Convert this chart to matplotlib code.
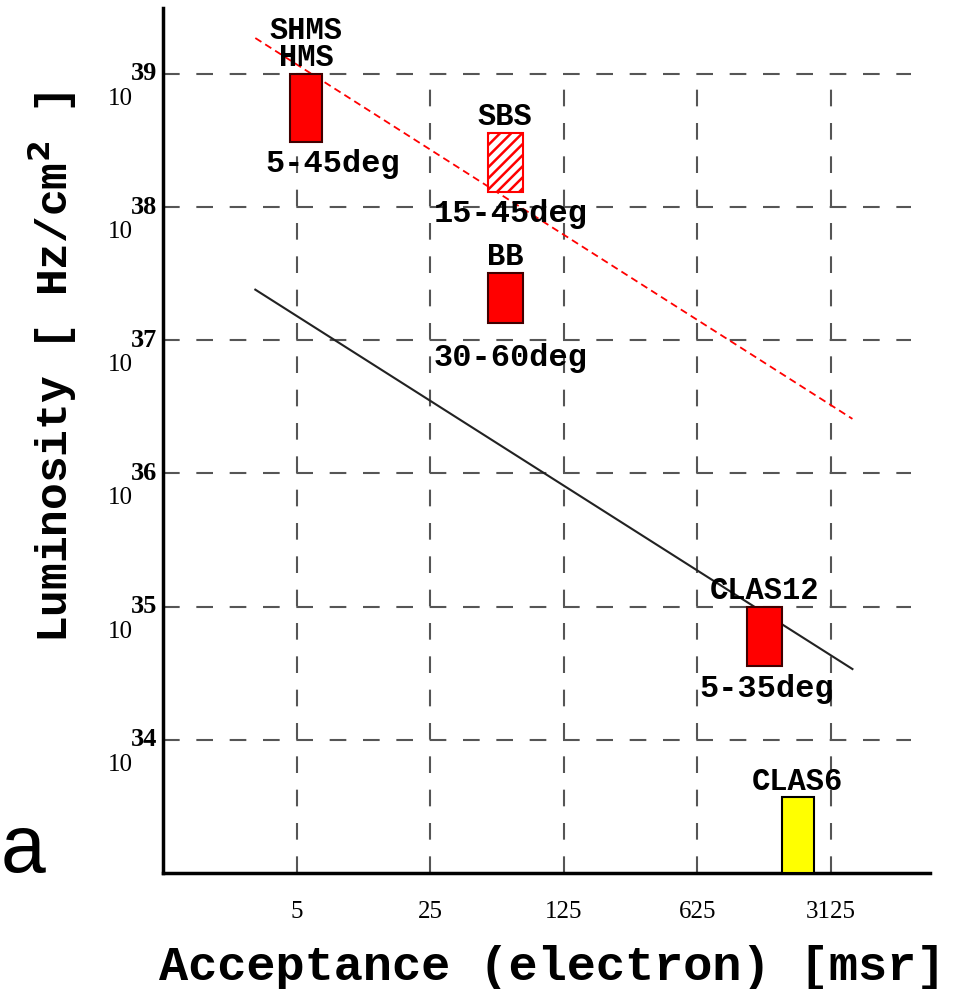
import matplotlib
matplotlib.use("Agg")
import matplotlib.pyplot as plt
from matplotlib.patches import Rectangle
from matplotlib.ticker import NullLocator

# detectors: electron acceptance range [msr] and luminosity range [Hz/cm^2]
names = ["SHMS\nHMS", "SBS", "BB", "CLAS12", "CLAS6"]
angles = ["5-45deg", "15-45deg", "30-60deg", "5-35deg", ""]
acc_lo = [4.6, 50, 50, 1130, 1720]
acc_hi = [6.8, 76, 76, 1720, 2540]
lum_lo = [3.1e38, 1.3e38, 1.35e37, 3.6e34, 1e33]
lum_hi = [1e39, 3.6e38, 3.2e37, 1e35, 3.7e33]

# the two reference lines
line_acc = [3.04, 4040]
line_black = [2.4e37, 3.4e34]
line_red = [1.86e39, 2.57e36]

xticks = [5, 25, 125, 625, 3125]
ytick_exp = [34, 35, 36, 37, 38, 39]

# styling
FACE = ["red", "white", "red", "red", "yellow"]
EDGE = ["#400000", "red", "#400000", "#400000", "black"]
HATCH = [None, "///", None, None, None]
# angle-label offsets (points) from bar bottom centre
ANG_OFF = [(19, -22), (4, -21.5), (4, -31), (2, -22.3), (0, 0)]
MONO = "Liberation Mono"
SERIF = "Liberation Serif"

plt.rcParams["hatch.linewidth"] = 1.8

W, H = 963, 989
fig = plt.figure(figsize=(W / 100, H / 100), dpi=100)
ax = fig.add_axes([163 / W, 116 / H, 767 / W, 865 / H])
ax.set_xscale("log", base=5)
ax.set_yscale("log")
ax.set_xlim(1, 5 ** 5.74)
ax.set_ylim(1e33, 10 ** 39.495)

yticks = [10.0 ** e for e in ytick_exp]

# dashed grid, boxed to the tick range
gkw = dict(color="#555555", lw=1.5, ls=(0, (8, 8)), zorder=1)
ax.hlines(yticks, 1, 5 ** 5.6, **gkw)
ax.vlines(xticks, 1e33, 1e39, **gkw)

ax.plot(line_acc, line_red, color="red", lw=1.3, ls=(0, (4, 2.5)), zorder=2)
ax.plot(line_acc, line_black, color="#222222", lw=1.5, zorder=2)

for i in range(len(names)):
    r = Rectangle((acc_lo[i], lum_lo[i]), acc_hi[i] - acc_lo[i], lum_hi[i] - lum_lo[i],
                  facecolor=FACE[i], edgecolor=EDGE[i], hatch=HATCH[i], lw=1.5, zorder=3)
    ax.add_patch(r)
    xc = (acc_lo[i] * acc_hi[i]) ** 0.5
    ax.annotate(names[i], xy=(xc, lum_hi[i]), xytext=(0, 0.5), textcoords="offset points",
                ha="center", va="bottom", family=MONO, weight="bold", fontsize=22,
                linespacing=0.9, zorder=5)
    if angles[i]:
        ax.annotate(angles[i], xy=(xc, lum_lo[i]), xytext=ANG_OFF[i], textcoords="offset points",
                    ha="center", va="baseline", family=MONO, weight="bold", fontsize=23, zorder=5)

ax.set_xticks(xticks, labels=[str(t) for t in xticks])
ax.set_yticks(yticks, labels=[])
ax.xaxis.set_minor_locator(NullLocator())
ax.yaxis.set_minor_locator(NullLocator())
ax.tick_params(axis="x", length=0, pad=20, labelsize=18)
ax.tick_params(axis="y", length=0)
for lab in ax.get_xticklabels():
    lab.set_family(SERIF)

# y tick labels drawn as "10" with a raised bold exponent, like the original
for e, yv in zip(ytick_exp, yticks):
    ax.annotate(str(e), xy=(0, yv), xycoords=("axes fraction", "data"), xytext=(-4.3, 0),
                textcoords="offset points", ha="right", va="center", family=SERIF,
                weight="bold", fontsize=19, annotation_clip=False)
    ax.annotate("10", xy=(0, yv), xycoords=("axes fraction", "data"), xytext=(-21.6, -22.3),
                textcoords="offset points", ha="right", va="baseline", family=SERIF,
                fontsize=18, annotation_clip=False)

for s in ("top", "right"):
    ax.spines[s].set_visible(False)
for s in ("left", "bottom"):
    ax.spines[s].set_linewidth(2.5)

fig.text(552 / W, 1 - 968 / H, "Acceptance (electron) [msr]", ha="center", va="center",
         family=MONO, weight="bold", fontsize=35)
fig.text(52 / W, 1 - 367 / H, r"Luminosity [ Hz/cm$^\mathbf{2}$ ]", ha="center", va="center",
         rotation=90, family=MONO, weight="bold", fontsize=32)
fig.text(1 / W, 1 - 872 / H, "a", ha="left", va="baseline", family="Liberation Sans", fontsize=58)

fig.savefig("out.png", dpi=100)
